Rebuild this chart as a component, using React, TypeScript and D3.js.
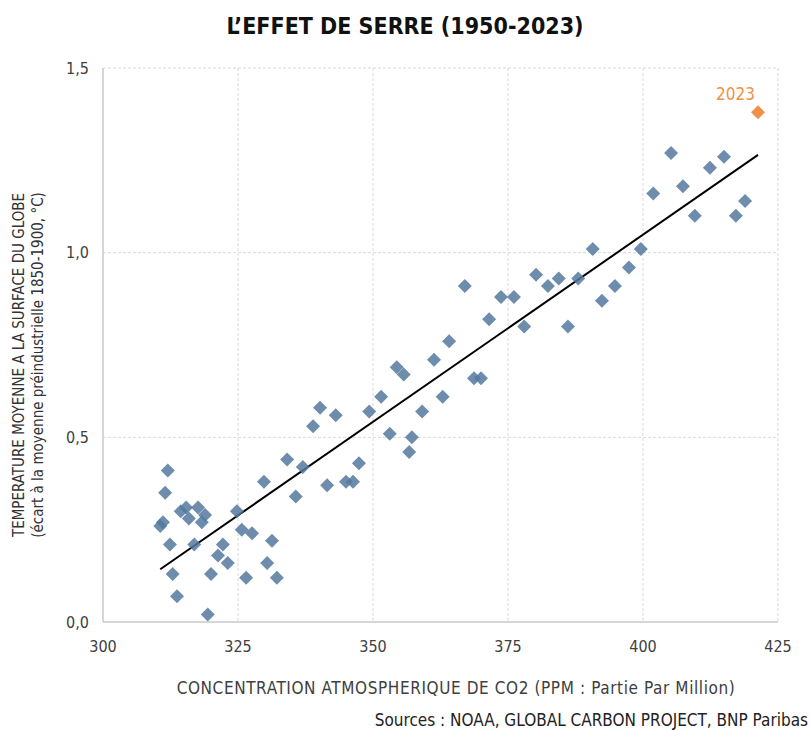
import React, { useEffect, useRef } from 'react';
import * as d3 from 'd3';

// CO2 concentration (ppm) for 1950..2023
const co2 = [
  310.6, 311.1, 311.5, 312.0, 312.4, 312.9, 313.7, 314.4, 315.4, 315.9,
  316.9, 317.6, 318.3, 318.9, 319.4, 320.0, 321.3, 322.2, 323.1, 324.8,
  325.7, 326.5, 327.6, 329.8, 330.4, 331.3, 332.2, 334.1, 335.7, 337.0,
  338.9, 340.2, 341.5, 343.1, 345.0, 346.3, 347.4, 349.3, 351.5, 353.1,
  354.4, 355.7, 356.7, 357.2, 359.1, 361.3, 362.9, 364.1, 367.0, 368.7,
  370.0, 371.5, 373.7, 376.1, 378.0, 380.2, 382.4, 384.4, 386.1, 388.0,
  390.7, 392.4, 394.8, 397.4, 399.6, 401.9, 405.2, 407.4, 409.6, 412.4,
  415.0, 417.2, 418.9, 421.3,
];

// temperature anomaly (°C vs 1850-1900)
const temp = [
  0.26, 0.27, 0.35, 0.41, 0.21, 0.13, 0.07, 0.30, 0.31, 0.28,
  0.21, 0.31, 0.27, 0.29, 0.02, 0.13, 0.18, 0.21, 0.16, 0.30,
  0.25, 0.12, 0.24, 0.38, 0.16, 0.22, 0.12, 0.44, 0.34, 0.42,
  0.53, 0.58, 0.37, 0.56, 0.38, 0.38, 0.43, 0.57, 0.61, 0.51,
  0.69, 0.67, 0.46, 0.50, 0.57, 0.71, 0.61, 0.76, 0.91, 0.66,
  0.66, 0.82, 0.88, 0.88, 0.80, 0.94, 0.91, 0.93, 0.80, 0.93,
  1.01, 0.87, 0.91, 0.96, 1.01, 1.16, 1.27, 1.18, 1.10, 1.23,
  1.26, 1.10, 1.14, 1.38,
];

const startYear = 1950;
const xTicks = [300, 325, 350, 375, 400, 425];
const yTicks = [0, 0.5, 1.0, 1.5];

const title = 'L\u2019EFFET DE SERRE (1950-2023)';
const xTitle = 'CONCENTRATION ATMOSPHERIQUE DE CO2 (PPM : Partie Par Million)';
const yTitle1 = 'TEMPERATURE MOYENNE A LA SURFACE DU GLOBE';
const yTitle2 = '(écart à la moyenne préindustrielle 1850-1900, °C)';
const source = 'Sources : NOAA, GLOBAL CARBON PROJECT, BNP Paribas';

const condensed = '"Liberation Sans Narrow", "DejaVu Sans Condensed", "Roboto", sans-serif';

const App = () => {
  const svgRef = useRef(null);

  useEffect(() => {
    const svg = d3.select(svgRef.current);
    svg.selectAll('*').remove();

    const width = 811;
    const height = 731;
    const margin = { top: 68, right: 33, bottom: 109, left: 103 };
    const innerWidth = width - margin.left - margin.right;
    const innerHeight = height - margin.top - margin.bottom;

    const data = co2.map((c, i) => ({ year: startYear + i, co2: c, temp: temp[i] }));

    const x = d3.scaleLinear().domain([300, 425]).range([0, innerWidth]);
    const y = d3.scaleLinear().domain([0, 1.5]).range([innerHeight, 0]);

    // Title
    svg.append('text')
      .attr('x', 405)
      .attr('y', 34)
      .attr('text-anchor', 'middle')
      .attr('font-family', condensed)
      .attr('font-weight', 'bold')
      .attr('font-size', 23)
      .attr('fill', '#111')
      .text(title);

    const g = svg.append('g')
      .attr('transform', `translate(${margin.left},${margin.top})`);

    // grid lines
    g.append('g')
      .selectAll('line')
      .data(xTicks.slice(1))
      .enter()
      .append('line')
      .attr('x1', d => x(d))
      .attr('x2', d => x(d))
      .attr('y1', 0)
      .attr('y2', innerHeight)
      .attr('stroke', '#d9d9d9')
      .attr('stroke-dasharray', '3,2');

    g.append('g')
      .selectAll('line')
      .data(yTicks.slice(1))
      .enter()
      .append('line')
      .attr('x1', 0)
      .attr('x2', innerWidth)
      .attr('y1', d => y(d))
      .attr('y2', d => y(d))
      .attr('stroke', '#d9d9d9')
      .attr('stroke-dasharray', '3,2');

    // axis lines
    g.append('line')
      .attr('x1', 0).attr('x2', 0)
      .attr('y1', 0).attr('y2', innerHeight)
      .attr('stroke', '#c8c8c8')
      .attr('stroke-width', 1.5);
    g.append('line')
      .attr('x1', 0).attr('x2', innerWidth)
      .attr('y1', innerHeight).attr('y2', innerHeight)
      .attr('stroke', '#c8c8c8')
      .attr('stroke-width', 1.5);

    // tick labels
    g.append('g')
      .selectAll('text')
      .data(yTicks)
      .enter()
      .append('text')
      .attr('x', -14)
      .attr('y', d => y(d))
      .attr('dy', '0.35em')
      .attr('text-anchor', 'end')
      .attr('font-family', condensed)
      .attr('font-size', 16)
      .attr('fill', '#404040')
      .text(d => d3.format('.1f')(d).replace('.', ','));

    g.append('g')
      .selectAll('text')
      .data(xTicks)
      .enter()
      .append('text')
      .attr('x', d => x(d))
      .attr('y', innerHeight + 30)
      .attr('text-anchor', 'middle')
      .attr('font-family', condensed)
      .attr('font-size', 16)
      .attr('fill', '#404040')
      .text(d => d);

    // axis titles
    svg.append('text')
      .attr('x', 456)
      .attr('y', 694)
      .attr('text-anchor', 'middle')
      .attr('font-family', condensed)
      .attr('font-size', 17)
      .attr('letter-spacing', 0.6)
      .attr('fill', '#404040')
      .text(xTitle);

    const yt = svg.append('text')
      .attr('transform', 'translate(0,365) rotate(-90)')
      .attr('text-anchor', 'middle')
      .attr('font-family', condensed)
      .attr('font-size', 15)
      .attr('fill', '#333');
    yt.append('tspan').attr('x', 0).attr('y', 24).text(yTitle1);
    yt.append('tspan').attr('x', 0).attr('y', 43).text(yTitle2);

    svg.append('text')
      .attr('x', 808)
      .attr('y', 726)
      .attr('text-anchor', 'end')
      .attr('font-family', condensed)
      .attr('font-size', 17)
      .attr('fill', '#222')
      .text(source);

    // regression line (least squares on the data)
    const mx = d3.mean(data, d => d.co2);
    const my = d3.mean(data, d => d.temp);
    const sxy = d3.sum(data, d => (d.co2 - mx) * (d.temp - my));
    const sxx = d3.sum(data, d => (d.co2 - mx) ** 2);
    const slope = sxy / sxx;
    const icpt = my - slope * mx;
    const xExt = d3.extent(data, d => d.co2);
    const line = d3.line().x(d => x(d)).y(d => y(icpt + slope * d));
    g.append('path')
      .datum(xExt)
      .attr('fill', 'none')
      .attr('stroke', '#000')
      .attr('stroke-width', 2)
      .attr('d', line);

    // points
    const diamond = d3.symbol().type(d3.symbolSquare).size(98);
    const last = data[data.length - 1];
    g.append('g')
      .selectAll('path')
      .data(data.slice(0, -1))
      .enter()
      .append('path')
      .attr('d', diamond)
      .attr('transform', d => `translate(${x(d.co2)},${y(d.temp)}) rotate(45)`)
      .attr('fill', '#55799f')
      .attr('fill-opacity', 0.85);

    g.append('path')
      .attr('d', diamond)
      .attr('transform', `translate(${x(last.co2)},${y(last.temp)}) rotate(45)`)
      .attr('fill', '#f0914a');

    g.append('text')
      .attr('x', x(last.co2) - 3)
      .attr('y', y(last.temp) - 12)
      .attr('text-anchor', 'end')
      .attr('font-family', condensed)
      .attr('font-size', 17)
      .attr('fill', '#f0914a')
      .text(String(last.year));
  }, []);

  return (
    <svg
      ref={svgRef}
      width={811}
      height={731}
      style={{ position: 'absolute', left: 0, top: 0, background: '#fff' }}
    ></svg>
  );
};

export default App;
